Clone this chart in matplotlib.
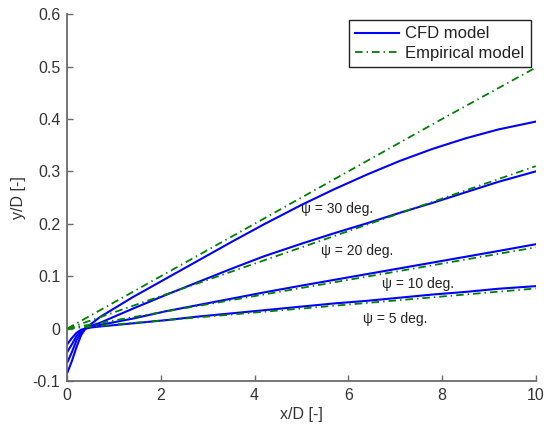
import matplotlib
matplotlib.use("Agg")
import matplotlib.pyplot as plt

plt.rcParams['font.family'] = ['Liberation Sans', 'DejaVu Sans']

# Downstream distance x/D
x_cfd = [0, 0.1, 0.2, 0.3, 0.4, 0.5, 0.7, 1.4, 2.1, 2.8, 3.5, 4.2, 5.0,
         5.7, 6.4, 7.1, 7.8, 8.5, 9.2, 10]
# CFD wake centre deflection y/D for each yaw angle
cfd_30 = [-0.085, -0.062, -0.035, -0.012, 0.001, 0.008, 0.022, 0.060, 0.095,
          0.130, 0.165, 0.199, 0.236, 0.266, 0.294, 0.320, 0.343, 0.363,
          0.380, 0.395]
cfd_20 = [-0.065, -0.045, -0.022, -0.007, 0.001, 0.005, 0.011, 0.038, 0.064,
          0.089, 0.114, 0.138, 0.162, 0.182, 0.201, 0.221, 0.240, 0.260,
          0.280, 0.300]
cfd_10 = [-0.045, -0.030, -0.014, -0.004, 0.001, 0.003, 0.007, 0.019, 0.033,
          0.045, 0.057, 0.069, 0.082, 0.093, 0.104, 0.115, 0.126, 0.137,
          0.148, 0.161]
cfd_5 = [-0.030, -0.018, -0.008, -0.002, 0.000, 0.002, 0.004, 0.010, 0.016,
         0.023, 0.029, 0.035, 0.042, 0.048, 0.053, 0.059, 0.065, 0.070,
         0.076, 0.081]

x_emp = [0, 2, 4, 6, 8, 10]
emp_30 = [0.0, 0.100, 0.200, 0.300, 0.400, 0.498]
emp_20 = [0.0, 0.062, 0.124, 0.186, 0.248, 0.310]
emp_10 = [0.0, 0.031, 0.062, 0.093, 0.124, 0.155]
emp_5 = [0.0, 0.0153, 0.0306, 0.0459, 0.0612, 0.0765]

angle_labels = ["\u03c8 = 30 deg.", "\u03c8 = 20 deg.", "\u03c8 = 10 deg.", "\u03c8 = 5 deg."]
label_pos = [(4.98, 0.229), (5.41, 0.148), (6.71, 0.086), (6.31, 0.019)]

fig = plt.figure(figsize=(5.45, 4.30), dpi=100)
ax = fig.add_axes([0.1233, 0.114, 0.8597, 0.853])

blue = (0, 0, 1)
green = (0, 0.5, 0)
dash_dot = (0, (4.2, 2.2, 0.8, 2.2))

for i, ys in enumerate([cfd_30, cfd_20, cfd_10, cfd_5]):
    ax.plot(x_cfd, ys, color=blue, lw=1.5,
            label="CFD model" if i == 0 else None)
for i, ys in enumerate([emp_30, emp_20, emp_10, emp_5]):
    ax.plot(x_emp, ys, color=green, lw=1.3, linestyle=dash_dot,
            label="Empirical model" if i == 0 else None)

for txt, (tx, ty) in zip(angle_labels, label_pos):
    ax.text(tx, ty, txt, fontsize=10, color='#222222', ha='left', va='center')

ax.set_xlim(0, 10)
ax.set_ylim(-0.1, 0.6)
ax.set_xticks([0, 2, 4, 6, 8, 10])
ax.set_yticks([-0.1, 0, 0.1, 0.2, 0.3, 0.4, 0.5, 0.6])
ax.set_yticklabels(['-0.1', '0', '0.1', '0.2', '0.3', '0.4', '0.5', '0.6'])

for side in ['top', 'right']:
    ax.spines[side].set_visible(False)
for side in ['left', 'bottom']:
    ax.spines[side].set_color('#6a6a6a')
    ax.spines[side].set_linewidth(1.3)
ax.tick_params(direction='in', length=4, width=1.0, color='#6a6a6a',
               labelsize=11.5, labelcolor='#333333', pad=5)

ax.set_xlabel("x/D [-]", fontsize=11.5, color='#333333', labelpad=3)
ax.set_ylabel("y/D [-]", fontsize=11.5, color='#333333', labelpad=5)

leg = ax.legend(loc='upper right', bbox_to_anchor=(0.99, 0.985),
                borderaxespad=0, fontsize=12, frameon=True, fancybox=False,
                framealpha=1, edgecolor='#222222', handlelength=2.65,
                handletextpad=0.35, borderpad=0.4, labelspacing=0.25)
leg.get_frame().set_linewidth(1.0)
for t in leg.get_texts():
    t.set_color('#222222')

fig.savefig("out.png", dpi=100)
